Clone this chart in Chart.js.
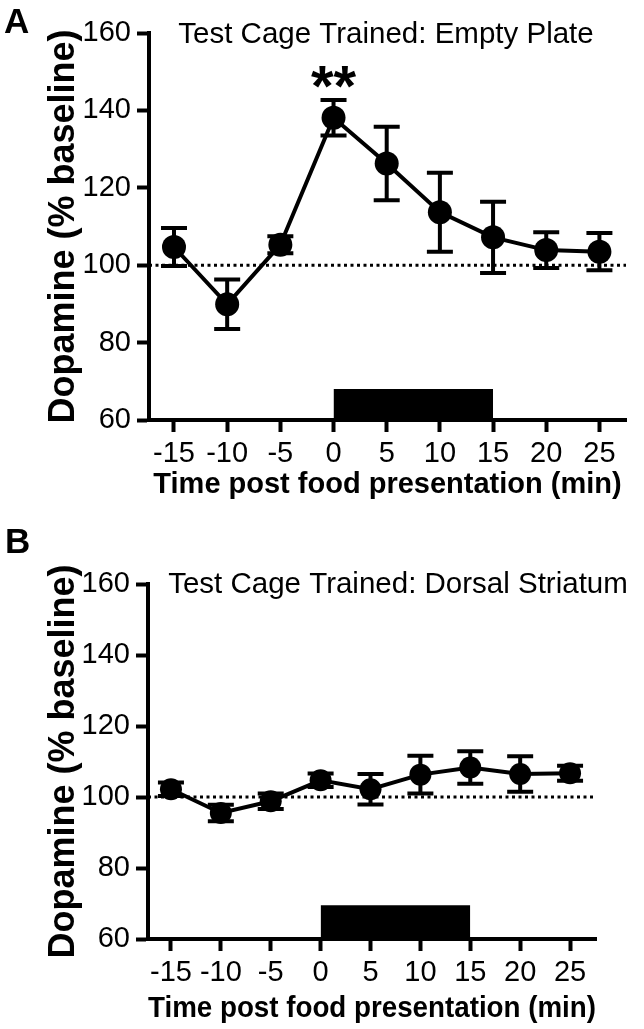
<!DOCTYPE html>
<html>
<head>
<meta charset="utf-8">
<title>Dopamine after food presentation</title>
<script src="https://cdn.jsdelivr.net/npm/chart.js@4.4.1/dist/chart.umd.min.js"></script>
<style>
  html, body { margin: 0; padding: 0; background: #fff; }
  #page { position: relative; width: 644px; height: 1029px; overflow: hidden; }
  canvas { position: absolute; left: 0; }
  #chartA { top: 0; }
  #chartB { top: 515px; }
</style>
</head>
<body>
<div id="page">
  <canvas id="chartA" width="644" height="515"></canvas>
  <canvas id="chartB" width="644" height="514"></canvas>
</div>
<script>
// Data
const timePoints = [-15, -10, -5, 0, 5, 10, 15, 20, 25];
const xTickValues = [-15, -10, -5, 0, 5, 10, 15, 20, 25];
const yTickValues = [60, 80, 100, 120, 140, 160];

const plateMeans = [104.7, 89.9, 105.3, 138.1, 126.3, 113.7, 107.2, 103.9, 103.5];
const plateErrors = [4.9, 6.4, 2.2, 4.6, 9.5, 10.2, 9.2, 4.6, 4.8];

const striatumMeans = [102.2, 95.5, 98.8, 104.7, 102.2, 106.3, 108.3, 106.5, 106.7];
const striatumErrors = [1.9, 2.3, 2.2, 1.9, 4.3, 5.3, 4.6, 5.0, 2.1];

const foodWindow = [0, 15];
const plateBarTop = 68;
const striatumBarTop = 69.5;
const baselineValue = 100;
const plateStars = { x: 0, y: 149.6, text: '**' };

const FONT = '"Liberation Sans", Arial, Helvetica, sans-serif';

// draws mean +/- error whiskers for any dataset carrying an `errors` array
const errorBarPlugin = {
    id: 'errorBars',
    afterDatasetsDraw(chart) {
        const ctx = chart.ctx;
        const xs = chart.scales.x, ys = chart.scales.y;
        chart.data.datasets.forEach(ds => {
            if (!ds.errors) return;
            ctx.save();
            ctx.strokeStyle = '#000';
            ctx.lineWidth = 4;
            ds.data.forEach((p, i) => {
                const e = ds.errors[i];
                const px = xs.getPixelForValue(p.x);
                const top = ys.getPixelForValue(p.y + e);
                const bot = ys.getPixelForValue(p.y - e);
                const half = 13;
                ctx.beginPath();
                ctx.moveTo(px, top); ctx.lineTo(px, bot);
                ctx.moveTo(px - half, top); ctx.lineTo(px + half, top);
                ctx.moveTo(px - half, bot); ctx.lineTo(px + half, bot);
                ctx.stroke();
            });
            ctx.restore();
        });
    }
};

// panel letter, panel title and significance stars
const panelTextPlugin = {
    id: 'panelText',
    afterDraw(chart, args, opts) {
        const ctx = chart.ctx;
        ctx.save();
        ctx.fillStyle = '#000';
        ctx.textBaseline = 'alphabetic';
        ctx.font = 'bold 35px ' + FONT;
        ctx.textAlign = 'left';
        ctx.fillText(opts.letter, opts.letterX, opts.letterY);
        ctx.font = '29.5px ' + FONT;
        ctx.textAlign = 'center';
        ctx.fillText(opts.title, opts.titleX, opts.titleY);
        if (opts.stars) {
            const size = 58;
            ctx.font = 'bold ' + size + 'px ' + FONT;
            const sx = chart.scales.x.getPixelForValue(opts.stars.x);
            const sy = chart.scales.y.getPixelForValue(opts.stars.y);
            ctx.fillText(opts.stars.text, sx, sy + size * 0.57);
        }
        ctx.restore();
    }
};

function makePanel(canvasId, p) {
    const series = timePoints.map((t, i) => ({ x: t, y: p.means[i] }));
    const ctx = document.getElementById(canvasId).getContext('2d');
    return new Chart(ctx, {
        type: 'line',
        data: {
            datasets: [
                {
                    data: series,
                    errors: p.errors,
                    borderColor: '#000',
                    borderWidth: 4,
                    pointRadius: p.pointRadius,
                    pointBackgroundColor: '#000',
                    pointBorderWidth: 0,
                    tension: 0,
                    order: 0
                },
                {
                    data: [{ x: p.xMin, y: baselineValue }, { x: p.xMax, y: baselineValue }],
                    borderColor: '#000',
                    borderWidth: 3,
                    borderDash: [3, 3.5],
                    pointRadius: 0,
                    order: 1
                },
                {
                    data: foodWindow.map(v => ({ x: v, y: p.barTop })),
                    borderWidth: 0,
                    pointRadius: 0,
                    backgroundColor: '#000',
                    fill: { value: 60 },
                    order: 2
                }
            ]
        },
        options: {
            responsive: false,
            animation: false,
            events: [],
            layout: { padding: { top: p.padTop, right: p.padRight, left: 0, bottom: 0 } },
            plugins: {
                legend: { display: false },
                tooltip: { enabled: false },
                panelText: p.text
            },
            scales: {
                x: {
                    type: 'linear',
                    min: p.xMin,
                    max: p.xMax,
                    afterBuildTicks: s => { s.ticks = xTickValues.map(v => ({ value: v })); },
                    afterFit: s => { s.height = p.xAxisHeight; },
                    border: { display: true, color: '#000', width: 4 },
                    grid: { drawOnChartArea: false, drawTicks: true, tickLength: 12, tickWidth: 4, tickColor: '#000' },
                    ticks: { color: '#000', padding: 5, maxRotation: 0, autoSkip: false, font: { family: FONT, size: 29 } },
                    title: {
                        display: true,
                        text: 'Time post food presentation (min)',
                        color: '#000',
                        font: { family: FONT, size: 29, weight: 'bold' },
                        padding: { top: 0, bottom: p.xTitlePad }
                    }
                },
                y: {
                    min: 60,
                    max: 160,
                    afterBuildTicks: s => { s.ticks = yTickValues.map(v => ({ value: v })); },
                    afterFit: s => { s.width = p.yAxisWidth; },
                    border: { display: true, color: '#000', width: 4 },
                    grid: { drawOnChartArea: false, drawTicks: true, tickLength: 12, tickWidth: 4, tickColor: '#000' },
                    ticks: { color: '#000', padding: 6, font: { family: FONT, size: 29 } },
                    title: {
                        display: true,
                        text: 'Dopamine (% baseline)',
                        color: '#000',
                        font: { family: FONT, size: 36, weight: 'bold' },
                        padding: { top: 42, bottom: 0 }
                    }
                }
            }
        },
        plugins: [errorBarPlugin, panelTextPlugin]
    });
}

document.addEventListener('DOMContentLoaded', function() {
    makePanel('chartA', {
        means: plateMeans,
        errors: plateErrors,
        barTop: plateBarTop,
        pointRadius: 12,
        xMin: -17.35, xMax: 27.5,
        padTop: 33, padRight: 18,
        yAxisWidth: 149, xAxisHeight: 95, xTitlePad: 13,
        text: { letter: 'A', letterX: 4, letterY: 33, title: 'Test Cage Trained: Empty Plate', titleX: 386, titleY: 43, stars: plateStars }
    });
    makePanel('chartB', {
        means: striatumMeans,
        errors: striatumErrors,
        barTop: striatumBarTop,
        pointRadius: 11,
        xMin: -17.3, xMax: 27.6,
        padTop: 69, padRight: 48,
        yAxisWidth: 148, xAxisHeight: 90, xTitlePad: 3,
        text: { letter: 'B', letterX: 5, letterY: 38, title: 'Test Cage Trained: Dorsal Striatum', titleX: 398, titleY: 78, stars: null }
    });
});
</script>
</body>
</html>
